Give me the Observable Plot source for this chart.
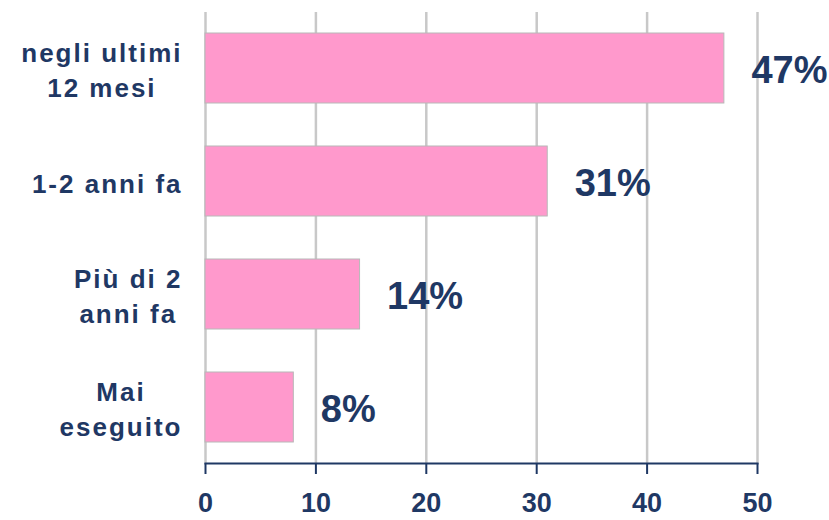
<!DOCTYPE html>
<html>
<head>
<meta charset="utf-8">
<script src="https://cdn.jsdelivr.net/npm/d3@7"></script>
<script src="https://cdn.jsdelivr.net/npm/@observablehq/plot@0.6"></script>
<style>
  html, body { margin: 0; padding: 0; background: #fff; }
  svg { display: block; }
  .catlabel text { letter-spacing: 2px; }
</style>
</head>
<body>
<script>
const categories = ["negli ultimi\n12 mesi", "1-2 anni fa", "Più di 2\nanni fa", "Mai\neseguito"];
const values = [47, 31, 14, 8];
const xTicks = [0, 10, 20, 30, 40, 50];

const data = categories.map((c, i) => ({cat: c, value: values[i]}));
const navy = "#1f3864";

const chart = Plot.plot({
  width: 829,
  height: 520,
  marginLeft: 205,
  marginRight: 72,
  marginTop: 12,
  marginBottom: 57,
  style: {fontFamily: "'Liberation Sans', Arial, sans-serif", background: "#fff"},
  x: {domain: [0, 50], ticks: xTicks, label: null},
  y: {domain: categories, paddingInner: 0.38, paddingOuter: 0.18, axis: null, label: null},
  marks: [
    Plot.ruleX(xTicks, {stroke: "#c8c8c8", strokeWidth: 2.5}),
    Plot.barX(data, {x: "value", y: "cat", fill: "#ff99cc", stroke: "#b8b8b8", strokeWidth: 1}),
    Plot.frame({anchor: "bottom", stroke: navy, strokeWidth: 2}),
    Plot.axisX({ticks: xTicks, tickSize: 11, tickPadding: 18, stroke: navy, strokeWidth: 2, fill: navy, fontSize: 27, fontWeight: "bold", label: null, tickFormat: d => String(d)}),
    Plot.text(data, {x: 0, y: "cat", text: "cat", dx: -23, textAnchor: "end", lineAnchor: "middle", lineHeight: 1.36, fill: navy, fontSize: 26, fontWeight: "bold", className: "catlabel"}),
    Plot.text(data, {x: "value", y: "cat", text: d => d.value + "%", dx: 27, dy: 2, textAnchor: "start", lineAnchor: "middle", fill: navy, fontSize: 38, fontWeight: "bold"})
  ]
});
document.body.appendChild(chart);

// center multi-line category labels within their right-aligned block
chart.querySelectorAll(".catlabel text").forEach(t => {
  const w = t.getBBox().width;
  t.setAttribute("text-anchor", "middle");
  const tr = t.getAttribute("transform") || "";
  t.setAttribute("transform", tr + ` translate(${-w / 2},0)`);
});
</script>
</body>
</html>
